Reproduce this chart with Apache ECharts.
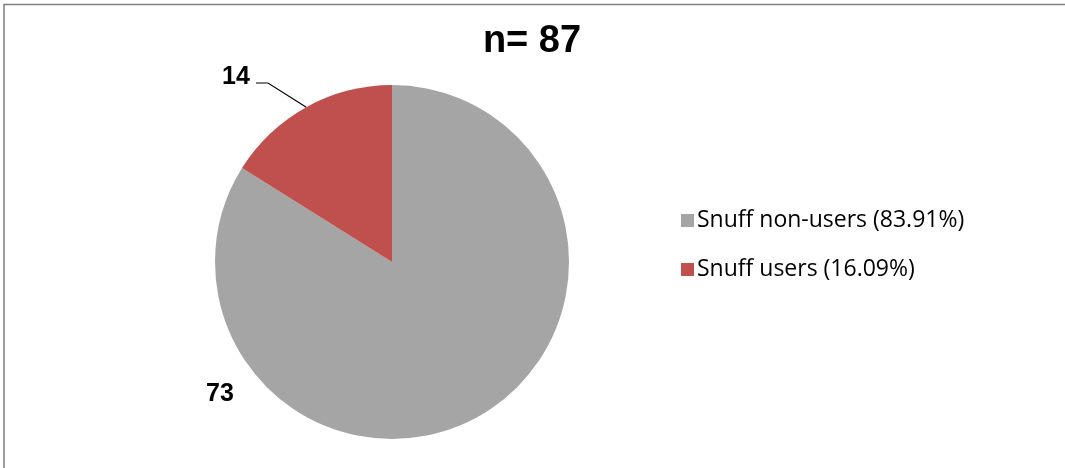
<!DOCTYPE html>
<html>
<head>
<meta charset="utf-8">
<script src="https://cdn.jsdelivr.net/npm/echarts@6/dist/echarts.min.js"></script>
<style>
  html, body { margin: 0; padding: 0; background: #fff; }
  #chart { width: 1065px; height: 468px; }
</style>
</head>
<body>
<div id="chart"></div>
<script>
// Snuff usage among respondents
const categories = ['Snuff non-users', 'Snuff users'];
const counts = [73, 14];
const colors = ['#A5A5A5', '#C0504D'];
const titleText = 'n= 87';

const total = counts.reduce((a, b) => a + b, 0);
const pct = counts.map(v => (v / total * 100).toFixed(2));
const legendNames = categories.map((c, i) => c + ' (' + pct[i] + '%)');

const pieData = legendNames.map((name, i) => ({
  name: name,
  value: counts[i],
  itemStyle: { color: colors[i] },
  labelLine: { show: i === 1 }
}));

const chart = echarts.init(document.getElementById('chart'), null, { renderer: 'canvas' });

chart.setOption({
  animation: false,
  backgroundColor: '#ffffff',
  graphic: [{
    type: 'rect',
    silent: true,
    shape: { x: 4, y: 4.5, width: 1200, height: 600 },
    style: { fill: 'none', stroke: '#7f7f7f', lineWidth: 1.5 }
  }],
  title: {
    text: titleText,
    left: 527,
    textAlign: 'center',
    top: 18,
    textStyle: {
      fontFamily: 'Liberation Sans',
      fontWeight: 'bold',
      fontSize: 38,
      color: '#000'
    }
  },
  legend: {
    orient: 'vertical',
    left: 676,
    top: 202,
    icon: 'rect',
    itemWidth: 13,
    itemHeight: 13,
    itemGap: 22,
    data: legendNames,
    textStyle: {
      fontFamily: 'Open Sans',
      fontSize: 23,
      color: '#000',
      padding: [0, 0, 0, -2],
      lineHeight: 27
    }
  },
  series: [{
    type: 'pie',
    center: [392, 262],
    radius: 177,
    startAngle: 90,
    clockwise: true,
    avoidLabelOverlap: false,
    data: pieData,
    label: {
      show: true,
      position: 'outside',
      formatter: '{c}',
      fontFamily: 'Liberation Sans',
      fontWeight: 'bold',
      fontSize: 25,
      color: '#000'
    },
    labelLine: {
      show: true,
      length: 20,
      length2: 12,
      lineStyle: { color: '#000', width: 1.2 }
    },
    labelLayout: function (p) {
      if (p.dataIndex === 0) {
        return { x: 220, y: 394, align: 'center', verticalAlign: 'middle' };
      }
      // label to the upper left, leader line from the slice edge to the label
      const lx = 236, ly = 77;
      const pts = p.labelLinePoints;
      const endX = lx + 20;
      const out = { x: lx, y: ly, align: 'center', verticalAlign: 'middle' };
      if (pts && pts.length) {
        const s = pts[0];
        out.labelLinePoints = [[s[0], s[1]], [endX + 12, ly + 6], [endX, ly + 6]];
      }
      return out;
    },
    emphasis: { disabled: true }
  }]
});
</script>
</body>
</html>
